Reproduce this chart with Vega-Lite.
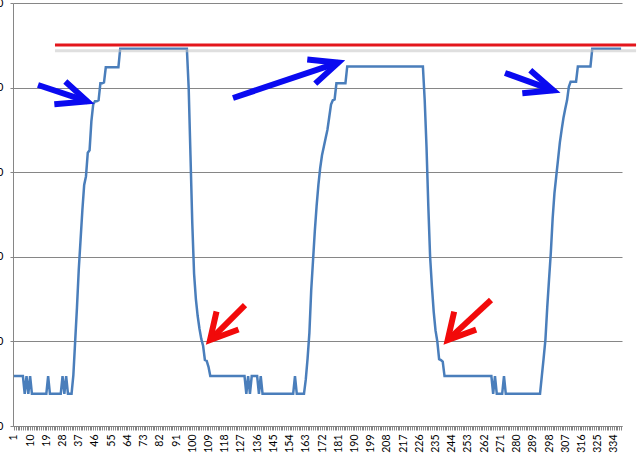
{
  "$schema": "https://vega.github.io/schema/vega-lite/v6.json",
  "width": 609,
  "height": 423,
  "autosize": {"type": "none"},
  "padding": {"left": 13, "top": 3, "right": 18, "bottom": 38},
  "background": "white",
  "config": {"view": {"stroke": null}},
  "datasets": {
    "series": [
      {"i":1,"v":5.9},{"i":2,"v":5.9},{"i":3,"v":5.9},{"i":4,"v":5.9},{"i":5,"v":5.9},{"i":6,"v":5.9},{"i":7,"v":3.8},{"i":8,"v":5.9},{"i":9,"v":3.8},{"i":10,"v":5.9},
      {"i":11,"v":3.8},{"i":12,"v":3.8},{"i":13,"v":3.8},{"i":14,"v":3.8},{"i":15,"v":3.8},{"i":16,"v":3.8},{"i":17,"v":3.8},{"i":18,"v":3.8},{"i":19,"v":3.8},{"i":20,"v":5.9},
      {"i":21,"v":3.8},{"i":22,"v":3.8},{"i":23,"v":3.8},{"i":24,"v":3.8},{"i":25,"v":3.8},{"i":26,"v":3.8},{"i":27,"v":3.8},{"i":28,"v":5.9},{"i":29,"v":3.8},{"i":30,"v":5.9},
      {"i":31,"v":3.8},{"i":32,"v":3.8},{"i":33,"v":3.8},{"i":34,"v":6},{"i":35,"v":10},{"i":36,"v":14},{"i":37,"v":18.5},{"i":38,"v":22},{"i":39,"v":25.5},{"i":40,"v":28.5},
      {"i":41,"v":29.5},{"i":42,"v":32.3},{"i":43,"v":32.6},{"i":44,"v":36},{"i":45,"v":38},{"i":46,"v":38.4},{"i":47,"v":38.4},{"i":48,"v":38.5},{"i":49,"v":40.5},{"i":50,"v":40.5},
      {"i":51,"v":40.6},{"i":52,"v":42.4},{"i":53,"v":42.4},{"i":54,"v":42.4},{"i":55,"v":42.4},{"i":56,"v":42.4},{"i":57,"v":42.4},{"i":58,"v":42.4},{"i":59,"v":42.4},{"i":60,"v":44.6},
      {"i":61,"v":44.6},{"i":62,"v":44.6},{"i":63,"v":44.6},{"i":64,"v":44.6},{"i":65,"v":44.6},{"i":66,"v":44.6},{"i":67,"v":44.6},{"i":68,"v":44.6},{"i":69,"v":44.6},{"i":70,"v":44.6},
      {"i":71,"v":44.6},{"i":72,"v":44.6},{"i":73,"v":44.6},{"i":74,"v":44.6},{"i":75,"v":44.6},{"i":76,"v":44.6},{"i":77,"v":44.6},{"i":78,"v":44.6},{"i":79,"v":44.6},{"i":80,"v":44.6},
      {"i":81,"v":44.6},{"i":82,"v":44.6},{"i":83,"v":44.6},{"i":84,"v":44.6},{"i":85,"v":44.6},{"i":86,"v":44.6},{"i":87,"v":44.6},{"i":88,"v":44.6},{"i":89,"v":44.6},{"i":90,"v":44.6},
      {"i":91,"v":44.6},{"i":92,"v":44.6},{"i":93,"v":44.6},{"i":94,"v":44.6},{"i":95,"v":44.6},{"i":96,"v":44.6},{"i":97,"v":44.6},{"i":98,"v":40},{"i":99,"v":32},{"i":100,"v":24},
      {"i":101,"v":18},{"i":102,"v":15},{"i":103,"v":13},{"i":104,"v":11.5},{"i":105,"v":10.3},{"i":106,"v":9.5},{"i":107,"v":7.8},{"i":108,"v":7.7},{"i":109,"v":7},{"i":110,"v":5.9},
      {"i":111,"v":5.9},{"i":112,"v":5.9},{"i":113,"v":5.9},{"i":114,"v":5.9},{"i":115,"v":5.9},{"i":116,"v":5.9},{"i":117,"v":5.9},{"i":118,"v":5.9},{"i":119,"v":5.9},{"i":120,"v":5.9},
      {"i":121,"v":5.9},{"i":122,"v":5.9},{"i":123,"v":5.9},{"i":124,"v":5.9},{"i":125,"v":5.9},{"i":126,"v":5.9},{"i":127,"v":5.9},{"i":128,"v":5.9},{"i":129,"v":5.9},{"i":130,"v":3.8},
      {"i":131,"v":5.9},{"i":132,"v":3.8},{"i":133,"v":5.9},{"i":134,"v":5.9},{"i":135,"v":5.9},{"i":136,"v":5.9},{"i":137,"v":3.8},{"i":138,"v":5.9},{"i":139,"v":3.8},{"i":140,"v":3.8},
      {"i":141,"v":3.8},{"i":142,"v":3.8},{"i":143,"v":3.8},{"i":144,"v":3.8},{"i":145,"v":3.8},{"i":146,"v":3.8},{"i":147,"v":3.8},{"i":148,"v":3.8},{"i":149,"v":3.8},{"i":150,"v":3.8},
      {"i":151,"v":3.8},{"i":152,"v":3.8},{"i":153,"v":3.8},{"i":154,"v":3.8},{"i":155,"v":3.8},{"i":156,"v":3.8},{"i":157,"v":5.9},{"i":158,"v":3.8},{"i":159,"v":3.8},{"i":160,"v":3.8},
      {"i":161,"v":3.8},{"i":162,"v":3.8},{"i":163,"v":5.5},{"i":164,"v":8},{"i":165,"v":11},{"i":166,"v":16},{"i":167,"v":19.5},{"i":168,"v":23},{"i":169,"v":26},{"i":170,"v":28.5},
      {"i":171,"v":30.5},{"i":172,"v":32},{"i":173,"v":33},{"i":174,"v":34},{"i":175,"v":35},{"i":176,"v":36.5},{"i":177,"v":38},{"i":178,"v":38.5},{"i":179,"v":38.6},{"i":180,"v":40.5},
      {"i":181,"v":40.5},{"i":182,"v":40.5},{"i":183,"v":40.5},{"i":184,"v":40.5},{"i":185,"v":40.5},{"i":186,"v":42.5},{"i":187,"v":42.5},{"i":188,"v":42.5},{"i":189,"v":42.5},{"i":190,"v":42.5},
      {"i":191,"v":42.5},{"i":192,"v":42.5},{"i":193,"v":42.5},{"i":194,"v":42.5},{"i":195,"v":42.5},{"i":196,"v":42.5},{"i":197,"v":42.5},{"i":198,"v":42.5},{"i":199,"v":42.5},{"i":200,"v":42.5},
      {"i":201,"v":42.5},{"i":202,"v":42.5},{"i":203,"v":42.5},{"i":204,"v":42.5},{"i":205,"v":42.5},{"i":206,"v":42.5},{"i":207,"v":42.5},{"i":208,"v":42.5},{"i":209,"v":42.5},{"i":210,"v":42.5},
      {"i":211,"v":42.5},{"i":212,"v":42.5},{"i":213,"v":42.5},{"i":214,"v":42.5},{"i":215,"v":42.5},{"i":216,"v":42.5},{"i":217,"v":42.5},{"i":218,"v":42.5},{"i":219,"v":42.5},{"i":220,"v":42.5},
      {"i":221,"v":42.5},{"i":222,"v":42.5},{"i":223,"v":42.5},{"i":224,"v":42.5},{"i":225,"v":42.5},{"i":226,"v":42.5},{"i":227,"v":42.5},{"i":228,"v":42.5},{"i":229,"v":38.5},{"i":230,"v":33},
      {"i":231,"v":26},{"i":232,"v":20},{"i":233,"v":16.5},{"i":234,"v":13.5},{"i":235,"v":11.3},{"i":236,"v":10},{"i":237,"v":7.9},{"i":238,"v":7.8},{"i":239,"v":7.6},{"i":240,"v":5.9},
      {"i":241,"v":5.9},{"i":242,"v":5.9},{"i":243,"v":5.9},{"i":244,"v":5.9},{"i":245,"v":5.9},{"i":246,"v":5.9},{"i":247,"v":5.9},{"i":248,"v":5.9},{"i":249,"v":5.9},{"i":250,"v":5.9},
      {"i":251,"v":5.9},{"i":252,"v":5.9},{"i":253,"v":5.9},{"i":254,"v":5.9},{"i":255,"v":5.9},{"i":256,"v":5.9},{"i":257,"v":5.9},{"i":258,"v":5.9},{"i":259,"v":5.9},{"i":260,"v":5.9},
      {"i":261,"v":5.9},{"i":262,"v":5.9},{"i":263,"v":5.9},{"i":264,"v":5.9},{"i":265,"v":5.9},{"i":266,"v":5.9},{"i":267,"v":3.8},{"i":268,"v":5.9},{"i":269,"v":3.8},{"i":270,"v":3.8},
      {"i":271,"v":3.8},{"i":272,"v":3.8},{"i":273,"v":5.9},{"i":274,"v":3.8},{"i":275,"v":3.8},{"i":276,"v":3.8},{"i":277,"v":3.8},{"i":278,"v":3.8},{"i":279,"v":3.8},{"i":280,"v":3.8},
      {"i":281,"v":3.8},{"i":282,"v":3.8},{"i":283,"v":3.8},{"i":284,"v":3.8},{"i":285,"v":3.8},{"i":286,"v":3.8},{"i":287,"v":3.8},{"i":288,"v":3.8},{"i":289,"v":3.8},{"i":290,"v":3.8},
      {"i":291,"v":3.8},{"i":292,"v":3.8},{"i":293,"v":3.8},{"i":294,"v":5.9},{"i":295,"v":8},{"i":296,"v":10.2},{"i":297,"v":14},{"i":298,"v":17.3},{"i":299,"v":20.5},{"i":300,"v":24.5},
      {"i":301,"v":27.5},{"i":302,"v":29.5},{"i":303,"v":31.5},{"i":304,"v":33.5},{"i":305,"v":35},{"i":306,"v":36.4},{"i":307,"v":37.5},{"i":308,"v":38.5},{"i":309,"v":40.1},{"i":310,"v":40.7},
      {"i":311,"v":40.7},{"i":312,"v":40.7},{"i":313,"v":40.7},{"i":314,"v":42.5},{"i":315,"v":42.5},{"i":316,"v":42.5},{"i":317,"v":42.5},{"i":318,"v":42.5},{"i":319,"v":42.5},{"i":320,"v":42.5},
      {"i":321,"v":42.5},{"i":322,"v":44.6},{"i":323,"v":44.6},{"i":324,"v":44.6},{"i":325,"v":44.6},{"i":326,"v":44.6},{"i":327,"v":44.6},{"i":328,"v":44.6},{"i":329,"v":44.6},{"i":330,"v":44.6},
      {"i":331,"v":44.6},{"i":332,"v":44.6},{"i":333,"v":44.6},{"i":334,"v":44.6},{"i":335,"v":44.6},{"i":336,"v":44.6},{"i":337,"v":44.6},{"i":338,"v":44.6}
    ],
    "limit": [{"x": 23.8, "x2": 346.3, "y": 45.04}],
    "shadow": [{"x": 23.8, "x2": 346.3, "y": 44.35}],
    "arrows": [
      {"seg":"b1s","kind":"blue","ord":0,"x":14.38,"y":40.31},
      {"seg":"b1s","kind":"blue","ord":1,"x":41.75,"y":38.37},
      {"seg":"b1h","kind":"blue","ord":0,"x":29.54,"y":40.73},
      {"seg":"b1h","kind":"blue","ord":1,"x":41.75,"y":38.37},
      {"seg":"b1h","kind":"blue","ord":2,"x":23.43,"y":38.02},
      {"seg":"b2s","kind":"blue","ord":0,"x":122.6,"y":38.77},
      {"seg":"b2s","kind":"blue","ord":1,"x":181.02,"y":42.95},
      {"seg":"b2h","kind":"blue","ord":0,"x":163.82,"y":43.31},
      {"seg":"b2h","kind":"blue","ord":1,"x":181.02,"y":42.95},
      {"seg":"b2h","kind":"blue","ord":2,"x":168.26,"y":40.47},
      {"seg":"b3s","kind":"blue","ord":0,"x":273.56,"y":41.73},
      {"seg":"b3s","kind":"blue","ord":1,"x":300.37,"y":39.68},
      {"seg":"b3h","kind":"blue","ord":0,"x":287.59,"y":42.04},
      {"seg":"b3h","kind":"blue","ord":1,"x":300.37,"y":39.68},
      {"seg":"b3h","kind":"blue","ord":2,"x":283.17,"y":39.33},
      {"seg":"r1s","kind":"red","ord":0,"x":129.26,"y":14.3},
      {"seg":"r1s","kind":"red","ord":1,"x":109.85,"y":10.16},
      {"seg":"r1h","kind":"red","ord":0,"x":113.46,"y":13.53},
      {"seg":"r1h","kind":"red","ord":1,"x":109.85,"y":10.16},
      {"seg":"r1h","kind":"red","ord":2,"x":125.67,"y":11.4},
      {"seg":"r2s","kind":"red","ord":0,"x":265.8,"y":14.89},
      {"seg":"r2s","kind":"red","ord":1,"x":241.75,"y":10.15},
      {"seg":"r2h","kind":"red","ord":0,"x":245.35,"y":13.52},
      {"seg":"r2h","kind":"red","ord":1,"x":241.75,"y":10.15},
      {"seg":"r2h","kind":"red","ord":2,"x":257.55,"y":11.39}
    ]
  },
  "encoding": {
    "x": {"type": "quantitative", "scale": {"domain": [0.5, 338.5], "nice": false, "zero": false}},
    "y": {"type": "quantitative", "scale": {"domain": [0, 50], "nice": false}}
  },
  "layer": [
    {
      "data": {"name": "series"},
      "mark": {"type": "line", "color": "#4A7EBB", "strokeWidth": 2.5},
      "encoding": {
        "x": {
          "field": "i", "type": "quantitative",
          "scale": {"domain": [0.5, 338.5], "nice": false, "zero": false},
          "axis": {
            "title": null, "grid": false, "tickCount": 338, "format": "d",
            "labelExpr": "(datum.value - 1) % 9 == 0 ? datum.label : ''",
            "labelAngle": 270, "labelOverlap": false, "labelFlush": false, "labelBound": false,
            "labelPadding": 4, "tickSize": 4, "tickColor": "#868686", "domainColor": "#868686",
            "labelFont": "Lato", "labelFontSize": 10.5, "labelColor": "#000000"
          }
        },
        "y": {
          "field": "v", "type": "quantitative",
          "scale": {"domain": [0, 50], "nice": false},
          "axis": {
            "title": null, "values": [0, 10, 20, 30, 40, 50], "grid": true,
            "gridColor": "#868686", "domainColor": "#868686", "tickColor": "#868686",
            "tickSize": 3, "labelPadding": 7, "labelFont": "Lato", "labelFontSize": 11, "labelColor": "#000000"
          }
        }
      }
    },
    {
      "data": {"name": "shadow"},
      "mark": {"type": "rule", "color": "#c4c4c4", "strokeWidth": 3, "opacity": 0.55},
      "encoding": {
        "x": {"field": "x", "type": "quantitative", "axis": {"title": null}},
        "x2": {"field": "x2"},
        "y": {"field": "y", "type": "quantitative", "axis": {"title": null}}
      }
    },
    {
      "data": {"name": "limit"},
      "mark": {"type": "rule", "color": "#E3161C", "strokeWidth": 3},
      "encoding": {
        "x": {"field": "x", "type": "quantitative", "axis": {"title": null}},
        "x2": {"field": "x2"},
        "y": {"field": "y", "type": "quantitative", "axis": {"title": null}}
      }
    },
    {
      "data": {"name": "arrows"},
      "mark": {"type": "line", "strokeWidth": 6, "strokeCap": "butt", "strokeJoin": "miter"},
      "encoding": {
        "x": {"field": "x", "type": "quantitative", "axis": {"title": null}},
        "y": {"field": "y", "type": "quantitative", "axis": {"title": null}},
        "detail": {"field": "seg"},
        "order": {"field": "ord"},
        "color": {"field": "kind", "type": "nominal", "scale": {"domain": ["blue", "red"], "range": ["#0A0AF0", "#F20A0A"]}, "legend": null}
      }
    }
  ]
}
